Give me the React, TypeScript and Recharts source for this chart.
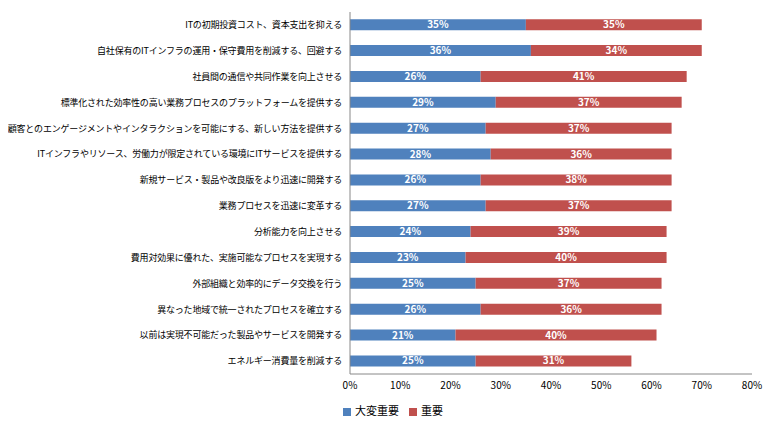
import React from "react";
import { BarChart, Bar, XAxis, YAxis, Legend, LabelList } from "recharts";

const categories = [
  "ITの初期投資コスト、資本支出を抑える",
  "自社保有のITインフラの運用・保守費用を削減する、回避する",
  "社員間の通信や共同作業を向上させる",
  "標準化された効率性の高い業務プロセスのプラットフォームを提供する",
  "顧客とのエンゲージメントやインタラクションを可能にする、新しい方法を提供する",
  "ITインフラやリソース、労働力が限定されている環境にITサービスを提供する",
  "新規サービス・製品や改良版をより迅速に開発する",
  "業務プロセスを迅速に変革する",
  "分析能力を向上させる",
  "費用対効果に優れた、実施可能なプロセスを実現する",
  "外部組織と効率的にデータ交換を行う",
  "異なった地域で統一されたプロセスを確立する",
  "以前は実現不可能だった製品やサービスを開発する",
  "エネルギー消費量を削減する",
];
const veryImportant = [35, 36, 26, 29, 27, 28, 26, 27, 24, 23, 25, 26, 21, 25];
const important = [35, 34, 41, 37, 37, 36, 38, 37, 39, 40, 37, 36, 40, 31];
const xTicks = [0, 10, 20, 30, 40, 50, 60, 70, 80];

const data = categories.map((c, i) => ({ name: c, a: veryImportant[i], b: important[i] }));
const font = "'Noto Sans CJK JP', sans-serif";

export default function App() {
  return (
    <BarChart
      width={763}
      height={420}
      data={data}
      layout="vertical"
      margin={{ top: 4, right: 19, bottom: 10, left: 0 }}
      barCategoryGap="28%"
      style={{ fontFamily: font }}
    >
      <XAxis
        type="number"
        domain={[0, 80]}
        ticks={xTicks}
        tickFormatter={(v) => `${v}%`}
        tick={{ fontSize: 10, fill: "#000" }}
        stroke="#888"
        tickLine={false}
        height={28}
      />
      <YAxis
        type="category"
        dataKey="name"
        width={342}
        tick={{ fontSize: 9, fill: "#000", letterSpacing: -0.2 }}
        stroke="#888"
        tickLine={false}
        interval={0}
      />
      <Legend
        verticalAlign="bottom"
        align="left"
        iconType="square"
        iconSize={8}
        wrapperStyle={{ fontSize: 11, paddingLeft: 335, color: "#000" }}
        formatter={(v) => <span style={{ color: "#000" }}>{v}</span>}
      />
      <Bar dataKey="a" name="大変重要" stackId="s" fill="#4F81BD" isAnimationActive={false}>
        <LabelList dataKey="a" position="center" formatter={(v) => `${v}%`} style={{ fill: "#fff", fontSize: 10, fontWeight: "bold" }} />
      </Bar>
      <Bar dataKey="b" name="重要" stackId="s" fill="#C0504D" isAnimationActive={false}>
        <LabelList dataKey="b" position="center" formatter={(v) => `${v}%`} style={{ fill: "#fff", fontSize: 10, fontWeight: "bold" }} />
      </Bar>
    </BarChart>
  );
}
